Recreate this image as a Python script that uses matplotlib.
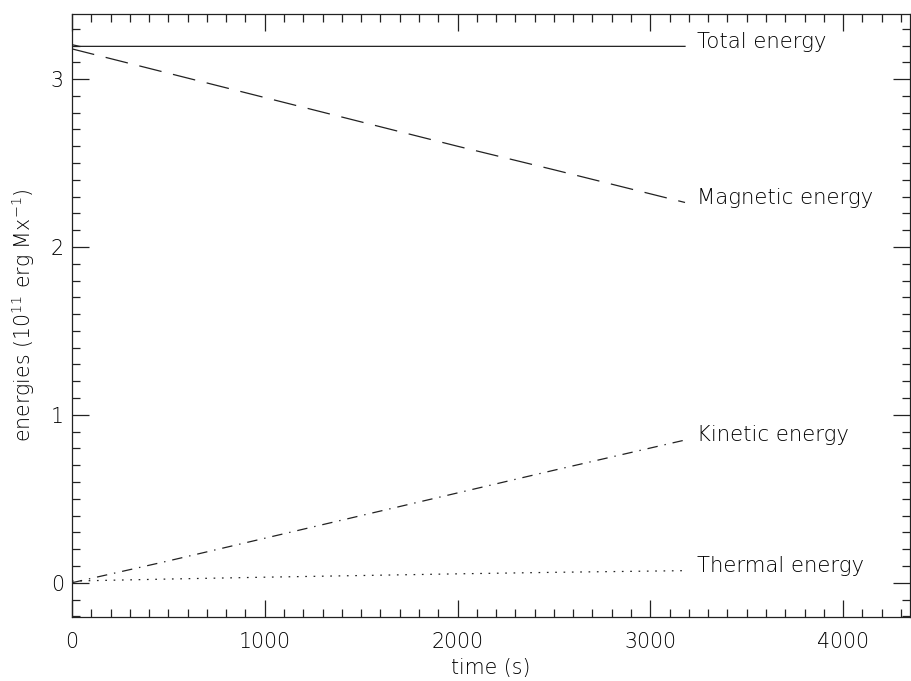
import matplotlib
matplotlib.use("Agg")
import matplotlib.pyplot as plt
from matplotlib.ticker import MultipleLocator

plt.rcParams['font.family'] = ['DejaVu Sans']
plt.rcParams['font.weight'] = 'light'
plt.rcParams['axes.labelweight'] = 'light'
plt.rcParams['mathtext.default'] = 'regular'
plt.rcParams['lines.scale_dashes'] = False

# values (10^11 erg Mx^-1)
t_total = [0, 40, 500, 1000, 1500, 2000, 2500, 3180]
e_total = [3.205, 3.195, 3.195, 3.195, 3.195, 3.195, 3.195, 3.195]

t_mag = [0, 500, 1000, 1500, 2000, 2500, 3180]
e_mag = [3.18, 3.035, 2.89, 2.745, 2.60, 2.46, 2.265]

t_kin = [0, 500, 1000, 1500, 2000, 2500, 3180]
e_kin = [0.0, 0.13, 0.265, 0.40, 0.535, 0.67, 0.85]

t_th = [0, 500, 1000, 1500, 2000, 2500, 3180]
e_th = [0.01, 0.022, 0.033, 0.043, 0.053, 0.062, 0.072]

labels = ['Total energy', 'Magnetic energy', 'Kinetic energy', 'Thermal energy']

fig = plt.figure(figsize=(9.11, 6.81), dpi=100)
ax = fig.add_axes([0.0790, 0.094, 0.9199, 0.886])

col = '#222222'
txt = 'black'
ax.plot(t_total, e_total, color=col, lw=0.9, ls='-')
ax.plot(t_mag, e_mag, color=col, lw=0.9, ls=(0, (16.5, 8.5)))
ax.plot(t_kin, e_kin, color=col, lw=0.9, ls=(0, (7.5, 5.0, 1.0, 5.0)))
ax.plot(t_th, e_th, color=col, lw=0.9, ls=(0, (1.2, 4.8)))

for t, e, lab in zip([t_total, t_mag, t_kin, t_th], [e_total, e_mag, e_kin, e_th], labels):
    ax.annotate(lab, xy=(t[-1], e[-1]), xytext=(8.6, -1), textcoords='offset points',
                ha='left', va='baseline', fontsize=15.3, color=txt)

ax.set_xlim(0, 4347)
ax.set_ylim(-0.204, 3.39)
ax.xaxis.set_major_locator(MultipleLocator(1000))
ax.xaxis.set_minor_locator(MultipleLocator(100))
ax.yaxis.set_major_locator(MultipleLocator(1))
ax.yaxis.set_minor_locator(MultipleLocator(0.1))
ax.tick_params(which='both', direction='in', top=True, right=True, color=col,
               labelcolor=txt, labelsize=14.8, width=0.9)
ax.tick_params(which='major', length=12)
ax.tick_params(which='minor', length=6)
ax.tick_params(axis='x', which='major', pad=11)
ax.tick_params(axis='y', which='major', pad=6)
for s in ax.spines.values():
    s.set_linewidth(0.9)
    s.set_color(col)

ax.set_xlabel('time (s)', fontsize=14.8, color=txt, labelpad=4)
ax.set_ylabel('energies (10$^{11}$ erg Mx$^{-1}$)', fontsize=14.8, color=txt, labelpad=10)

fig.savefig('out.png', dpi=100)
